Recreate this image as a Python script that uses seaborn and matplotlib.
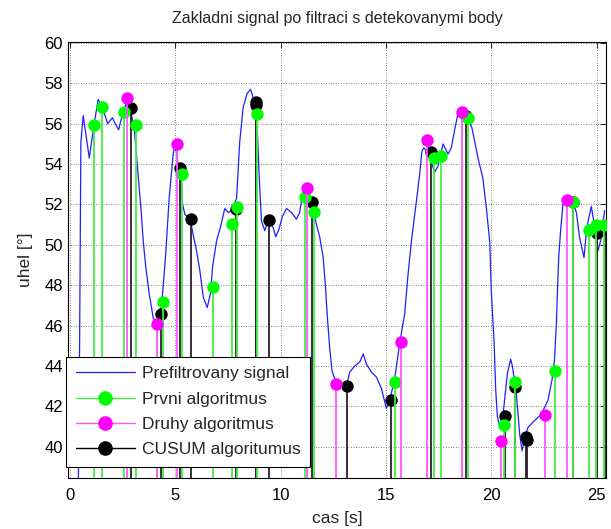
import numpy as np
import pandas as pd
import matplotlib
matplotlib.use("Agg")
import matplotlib.pyplot as plt
import seaborn as sns
from matplotlib.lines import Line2D
from matplotlib.legend_handler import HandlerLine2D

# prefiltered signal (traced)
sig_t = [0.38, 0.46, 0.52, 0.63, 0.92, 1.15, 1.34, 1.55, 1.79, 2.02, 2.10, 2.31, 2.50, 2.66,
         2.85, 3.05, 3.21, 3.37, 3.48, 3.60, 3.76, 3.95, 4.10, 4.25, 4.40, 4.55, 4.71, 4.90,
         4.98, 5.08, 5.14, 5.27, 5.35, 5.46, 5.69, 5.85, 6.01, 6.17, 6.33, 6.52, 6.67, 6.77,
         6.96, 7.15, 7.35, 7.52, 7.67, 7.91, 8.06, 8.22, 8.41, 8.57, 8.67, 8.89, 8.98, 9.09,
         9.25, 9.40, 9.65, 9.77, 9.93, 10.08, 10.28, 10.52, 10.75, 10.90, 11.02, 11.15, 11.30,
         11.62, 11.86, 12.02, 12.13, 12.22, 12.33, 12.44, 12.57, 12.80, 13.13, 13.28, 13.52,
         13.76, 13.92, 14.07, 14.31, 14.55, 14.78, 15.02, 15.18, 15.42, 15.65, 15.89, 16.05,
         16.21, 16.45, 16.60, 16.71, 16.80, 16.99, 17.31, 17.47, 17.71, 17.95, 18.10, 18.26,
         18.42, 18.60, 18.80, 19.08, 19.37, 19.60, 19.77, 19.93, 20.00, 20.13, 20.21, 20.29,
         20.40, 20.55, 20.76, 20.92, 21.00, 21.19, 21.35, 21.46, 21.60, 21.74, 22.06, 22.37,
         22.69, 22.88, 23.00, 23.09, 23.14, 23.20, 23.29, 23.40, 23.55, 23.88, 24.04, 24.19,
         24.40, 24.50, 24.60, 24.75, 24.90, 25.06, 25.19, 25.38]
sig_y = [36.0, 45.2, 55.1, 56.4, 54.3, 56.0, 57.2, 56.8, 56.0, 56.3, 56.1, 55.7, 56.5, 57.0,
         56.8, 55.8, 53.8, 51.8, 50.2, 48.9, 47.6, 46.4, 46.1, 46.5, 47.6, 49.6, 52.3, 54.5,
         54.9, 54.5, 53.8, 53.0, 52.0, 51.5, 51.35, 50.5, 49.7, 48.7, 47.4, 46.9, 47.6, 48.9,
         50.2, 50.9, 51.8, 51.6, 51.7, 52.3, 55.1, 56.8, 57.5, 57.7, 57.4, 55.8, 53.5, 51.2,
         50.7, 51.2, 50.85, 50.4, 50.8, 51.4, 51.8, 51.6, 51.27, 51.6, 52.35, 52.7, 52.3,
         51.35, 50.36, 49.37, 47.9, 46.4, 44.9, 43.76, 43.35, 43.1, 43.0, 43.7, 44.0,
         44.2, 44.6, 44.1, 43.7, 43.45, 42.9, 41.9, 42.3, 43.4, 45.1, 46.6, 48.55,
         50.2, 52.2, 53.5, 54.65, 54.8, 54.6, 53.6, 53.9, 55.0, 54.5, 54.8, 55.7,
         56.5, 56.6, 56.5, 55.8, 54.3, 53.3, 51.8, 50.1, 47.7, 45.25, 42.8, 41.5,
         41.0, 41.5, 43.6, 44.34, 44.0, 42.6, 40.6, 39.8, 40.5, 40.96, 41.3, 41.6,
         42.3, 43.3, 44.3, 46.1, 47.7, 49.37, 50.7, 52.0, 52.4, 52.1, 51.6, 50.36,
         49.37, 50.5, 51.2, 51.9, 50.9, 49.7, 50.2, 51.7]

# Prvni algoritmus
prvni_t = [1.15, 1.53, 2.56, 3.13, 4.43, 5.31, 6.77, 7.70, 7.91, 8.86, 11.15, 11.57, 15.42,
           17.27, 17.60, 18.90, 20.59, 21.14, 23.02, 23.88, 24.64, 24.95, 25.33]
prvni_y = [55.95, 56.85, 56.6, 55.95, 47.15, 53.5, 47.9, 51.05, 51.9, 56.5, 52.35, 51.65, 43.2,
           54.3, 54.4, 56.3, 41.1, 43.2, 43.75, 52.1, 50.75, 51.0, 51.0]

# Druhy algoritmus
druhy_t = [2.69, 4.14, 5.06, 11.26, 12.62, 15.73, 16.95, 18.63, 20.48, 22.55, 23.61]
druhy_y = [57.3, 46.1, 55.0, 52.8, 43.13, 45.2, 55.2, 56.58, 40.26, 41.58, 52.23]

# CUSUM algoritumus
cusum_t = [2.89, 4.30, 5.22, 5.77, 7.87, 8.81, 8.83, 9.46, 11.49, 13.16, 15.23, 17.13, 18.82,
           20.67, 21.14, 21.66, 21.68, 23.88, 25.00, 25.40]
cusum_y = [56.77, 46.57, 53.83, 51.3, 51.8, 57.1, 56.95, 51.24, 52.14, 43.02, 42.31, 54.62, 56.4,
           41.53, 42.94, 40.5, 40.35, 52.1, 50.58, 50.78]

x_ticks = [0, 5, 10, 15, 20, 25]
y_ticks = list(range(40, 61, 2))
y_bottom = 38.45


class StemHandler(HandlerLine2D):
    # matlab style: marker near the right end of the legend line
    def get_xdata(self, legend, xdescent, ydescent, width, height, fontsize):
        xdata = np.array([-xdescent, -xdescent + width])
        return xdata, np.array([-xdescent + 0.7 * width])


sns.set_theme(style="white")
plt.rcParams['font.family'] = ['Liberation Sans', 'DejaVu Sans']

fig = plt.figure(figsize=(6.11, 5.29), dpi=100)
ax = fig.add_axes([0.111, 0.0964, 0.881, 0.8242])

sig = pd.DataFrame({"t": sig_t, "y": sig_y})
sns.lineplot(data=sig, x="t", y="y", ax=ax, color="#1f1fff", lw=0.9,
             estimator=None, sort=False, zorder=2)

series = [
    (cusum_t, cusum_y, "#2b1f2b", "black", 3),
    (prvni_t, prvni_y, "#44ee44", "#00ff00", 4),
    (druhy_t, druhy_y, "#ff55ff", "#ff00ff", 5),
]
for t, y, lc, mc, z in series:
    ax.vlines(t, y_bottom, y, colors=lc, lw=1.3, zorder=z)
    sns.scatterplot(x=t, y=y, ax=ax, color=mc, s=80, linewidth=0, zorder=z + 0.5)

ax.set_xlim(-0.1, 25.45)
ax.set_ylim(y_bottom, 60.05)
ax.set_xticks(x_ticks)
ax.set_yticks(y_ticks)
ax.grid(True, color="0.35", linestyle=(0, (1, 2)), lw=0.6)
ax.tick_params(axis="x", pad=7)
ax.tick_params(direction="in", length=4, top=True, right=True, labelsize=12,
               colors="black", width=0.6)
for s in ax.spines.values():
    s.set_color("black")
    s.set_linewidth(0.8)

ax.set_title("Zakladni signal po filtraci s detekovanymi body", fontsize=11.5, pad=14)
ax.set_xlabel("cas [s]", fontsize=12.5, labelpad=6)
ax.set_ylabel("uhel [°]", fontsize=12.5, labelpad=8)

h_sig = Line2D([], [], color="#1f1fff", lw=0.9)
h_p = Line2D([], [], color="#44ee44", lw=1.0, marker="o", markersize=9.5,
             markerfacecolor="#00ff00", markeredgecolor="#00ff00")
h_d = Line2D([], [], color="#ff55ff", lw=1.0, marker="o", markersize=9.5,
             markerfacecolor="#ff00ff", markeredgecolor="#ff00ff")
h_c = Line2D([], [], color="black", lw=1.0, marker="o", markersize=9.5,
             markerfacecolor="black", markeredgecolor="black")
stem_h = StemHandler(numpoints=1)
leg = ax.legend([h_sig, h_p, h_d, h_c],
                ["Prefiltrovany signal", "Prvni algoritmus", "Druhy algoritmus", "CUSUM algoritumus"],
                loc="lower left", bbox_to_anchor=(-0.003, 0.026), borderaxespad=0,
                fontsize=12.5, handlelength=3.4, handletextpad=0.4, labelspacing=0.58,
                borderpad=0.55, fancybox=False, framealpha=1, edgecolor="black",
                handler_map={h_p: stem_h, h_d: stem_h, h_c: stem_h})
leg.get_frame().set_linewidth(0.8)
leg.set_zorder(10)

fig.savefig("out.png", dpi=100)
